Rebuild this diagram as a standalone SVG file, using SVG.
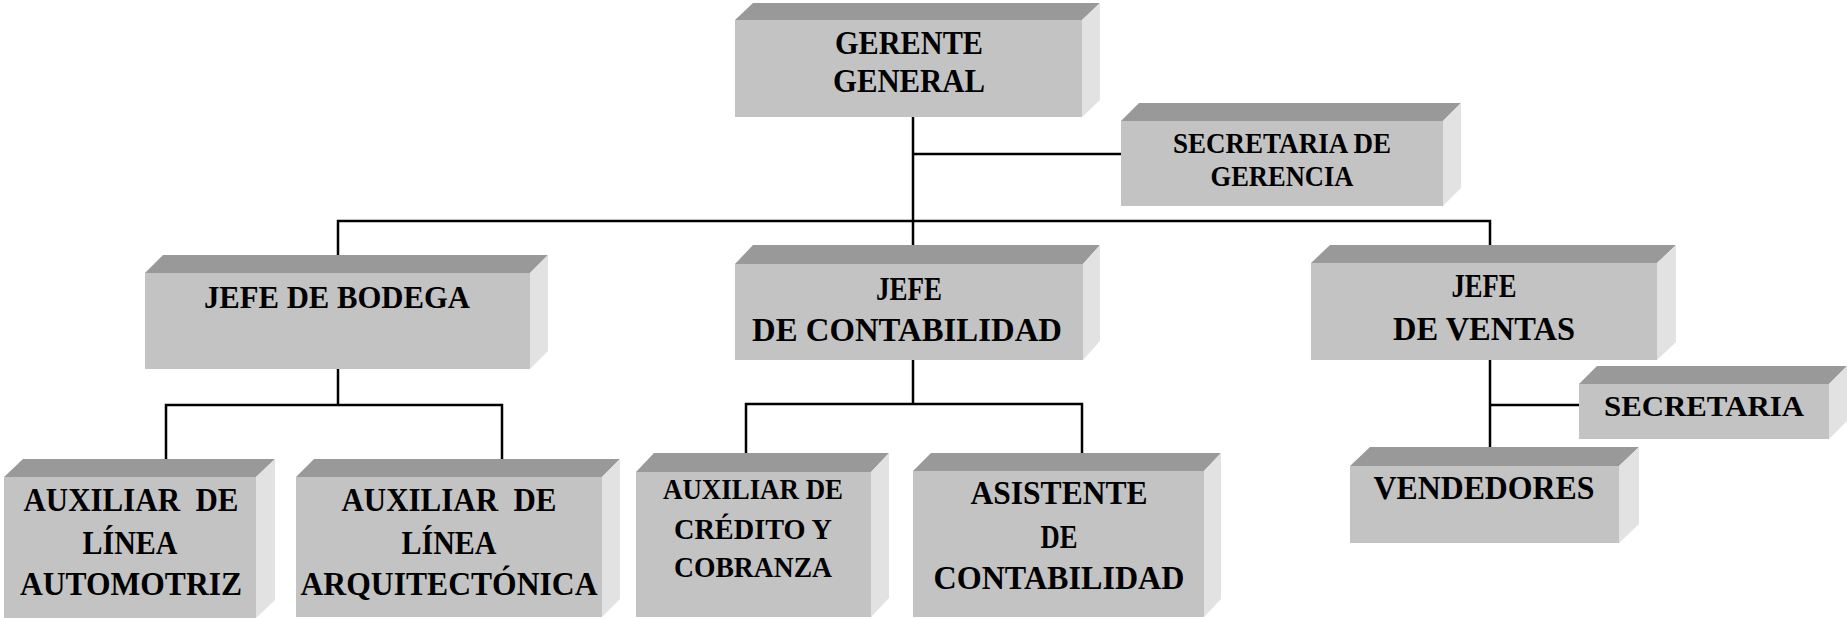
<svg xmlns="http://www.w3.org/2000/svg" width="1847" height="619" viewBox="0 0 1847 619">
<style>
.front{fill:#c3c3c3}
.top{fill:#999999}
.side{fill:#e2e2e2}
text{font-family:'Liberation Serif','Times New Roman','DejaVu Serif',serif;font-weight:700;fill:#000;text-anchor:middle}
.conn{stroke:#000;stroke-width:2.5;fill:none}
</style>
<rect width="1847" height="619" fill="#ffffff"/>
<g id="connectors">
<path class="conn" d="M913,117 V221"/>
<path class="conn" d="M913,154 H1121"/>
<path class="conn" d="M338,255 V221 H1490 V245"/>
<path class="conn" d="M913,221 V245"/>
<path class="conn" d="M338,369 V405"/>
<path class="conn" d="M166,459 V405 H502 V459"/>
<path class="conn" d="M913,360 V404"/>
<path class="conn" d="M746,453 V404 H1082 V453"/>
<path class="conn" d="M1490,360 V447"/>
<path class="conn" d="M1490,405 H1579"/>
</g>
<g id="gerente-general">
<polygon class="top" points="735,20 753,3 1100,3 1082,20"/>
<polygon class="side" points="1082,20 1100,3 1100,100 1082,117"/>
<rect class="front" x="735" y="20" width="347" height="97"/>
<text font-family="Liberation Serif" font-size="33" x="909" y="54" textLength="148" lengthAdjust="spacingAndGlyphs">GERENTE</text>
<text font-family="Liberation Serif" font-size="33" x="909" y="92" textLength="152" lengthAdjust="spacingAndGlyphs">GENERAL</text>
</g>
<g id="secretaria-gerencia">
<polygon class="top" points="1121,121 1139,103 1461,103 1443,121"/>
<polygon class="side" points="1443,121 1461,103 1461,188 1443,206"/>
<rect class="front" x="1121" y="121" width="322" height="85"/>
<text font-family="Liberation Serif" font-size="29" x="1282" y="153" textLength="218" lengthAdjust="spacingAndGlyphs">SECRETARIA DE</text>
<text font-family="Liberation Serif" font-size="29" x="1282" y="186" textLength="143" lengthAdjust="spacingAndGlyphs">GERENCIA</text>
</g>
<g id="jefe-bodega">
<polygon class="top" points="145,273 163,255 548,255 530,273"/>
<polygon class="side" points="530,273 548,255 548,351 530,369"/>
<rect class="front" x="145" y="273" width="385" height="96"/>
<text font-family="Liberation Serif" font-size="32" x="337" y="308" textLength="266" lengthAdjust="spacingAndGlyphs">JEFE DE BODEGA</text>
</g>
<g id="jefe-contabilidad">
<polygon class="top" points="735,264 753,245 1100,245 1083,264"/>
<polygon class="side" points="1083,264 1100,245 1100,341 1083,360"/>
<rect class="front" x="735" y="264" width="348" height="96"/>
<text font-family="Liberation Serif" font-size="34" x="909" y="300" textLength="66" lengthAdjust="spacingAndGlyphs">JEFE</text>
<text font-family="Liberation Serif" font-size="34" x="907" y="341" textLength="310" lengthAdjust="spacingAndGlyphs">DE CONTABILIDAD</text>
</g>
<g id="jefe-ventas">
<polygon class="top" points="1311,263 1330,245 1676,245 1657,263"/>
<polygon class="side" points="1657,263 1676,245 1676,342 1657,360"/>
<rect class="front" x="1311" y="263" width="346" height="97"/>
<text font-family="Liberation Serif" font-size="34" x="1484" y="297" textLength="65" lengthAdjust="spacingAndGlyphs">JEFE</text>
<text font-family="Liberation Serif" font-size="34" x="1484" y="340" textLength="182" lengthAdjust="spacingAndGlyphs">DE VENTAS</text>
</g>
<g id="secretaria">
<polygon class="top" points="1579,384 1597,366 1847,366 1829,384"/>
<polygon class="side" points="1829,384 1847,366 1847,421 1829,439"/>
<rect class="front" x="1579" y="384" width="250" height="55"/>
<text font-family="Liberation Serif" font-size="30" x="1704" y="416" textLength="200" lengthAdjust="spacingAndGlyphs">SECRETARIA</text>
</g>
<g id="vendedores">
<polygon class="top" points="1350,466 1370,447 1639,447 1619,466"/>
<polygon class="side" points="1619,466 1639,447 1639,524 1619,543"/>
<rect class="front" x="1350" y="466" width="269" height="77"/>
<text font-family="Liberation Serif" font-size="33" x="1484" y="499" textLength="221" lengthAdjust="spacingAndGlyphs">VENDEDORES</text>
</g>
<g id="auxiliar-automotriz">
<polygon class="top" points="4,477 23,459 275,459 256,477"/>
<polygon class="side" points="256,477 275,459 275,600 256,618"/>
<rect class="front" x="4" y="477" width="252" height="141"/>
<text font-family="Liberation Serif" font-size="33" x="131" y="511" textLength="215" lengthAdjust="spacingAndGlyphs" style="white-space:pre">AUXILIAR  DE</text>
<text font-family="Liberation Serif" font-size="33" x="130" y="554" textLength="95" lengthAdjust="spacingAndGlyphs">LÍNEA</text>
<text font-family="Liberation Serif" font-size="33" x="131" y="595" textLength="222" lengthAdjust="spacingAndGlyphs">AUTOMOTRIZ</text>
</g>
<g id="auxiliar-arquitectonica">
<polygon class="top" points="296,477 314,459 620,459 602,477"/>
<polygon class="side" points="602,477 620,459 620,599 602,617"/>
<rect class="front" x="296" y="477" width="306" height="140"/>
<text font-family="Liberation Serif" font-size="33" x="449" y="511" textLength="215" lengthAdjust="spacingAndGlyphs" style="white-space:pre">AUXILIAR  DE</text>
<text font-family="Liberation Serif" font-size="33" x="449" y="554" textLength="95" lengthAdjust="spacingAndGlyphs">LÍNEA</text>
<text font-family="Liberation Serif" font-size="33" x="449" y="595" textLength="297" lengthAdjust="spacingAndGlyphs">ARQUITECTÓNICA</text>
</g>
<g id="auxiliar-credito">
<polygon class="top" points="636,472 654,453 889,453 871,472"/>
<polygon class="side" points="871,472 889,453 889,598 871,617"/>
<rect class="front" x="636" y="472" width="235" height="145"/>
<text font-family="Liberation Serif" font-size="29" x="753" y="499" textLength="180" lengthAdjust="spacingAndGlyphs">AUXILIAR DE</text>
<text font-family="Liberation Serif" font-size="29" x="753" y="539" textLength="158" lengthAdjust="spacingAndGlyphs">CRÉDITO Y</text>
<text font-family="Liberation Serif" font-size="29" x="753" y="577" textLength="158" lengthAdjust="spacingAndGlyphs">COBRANZA</text>
</g>
<g id="asistente-contabilidad">
<polygon class="top" points="913,471 931,453 1221,453 1204,471"/>
<polygon class="side" points="1204,471 1221,453 1221,599 1204,617"/>
<rect class="front" x="913" y="471" width="291" height="146"/>
<text font-family="Liberation Serif" font-size="33" x="1059" y="504" textLength="177" lengthAdjust="spacingAndGlyphs">ASISTENTE</text>
<text font-family="Liberation Serif" font-size="33" x="1059" y="548" textLength="37" lengthAdjust="spacingAndGlyphs">DE</text>
<text font-family="Liberation Serif" font-size="33" x="1059" y="589" textLength="251" lengthAdjust="spacingAndGlyphs">CONTABILIDAD</text>
</g>
</svg>
